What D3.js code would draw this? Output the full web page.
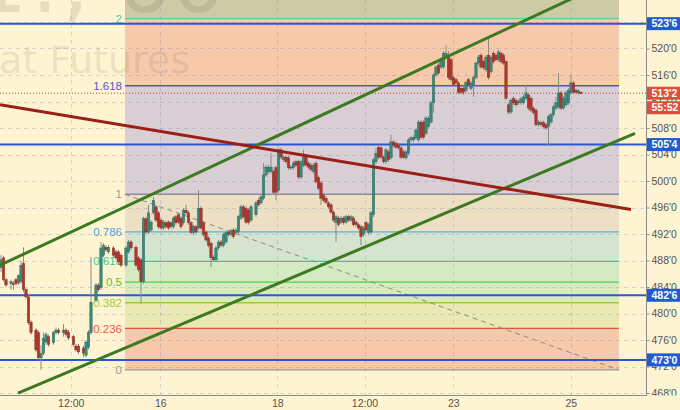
<!DOCTYPE html>
<html><head><meta charset="utf-8">
<script src="https://cdn.jsdelivr.net/npm/d3@7"></script>
<style>html,body{margin:0;padding:0;background:#fff4d2;} svg{display:block}</style>
</head><body><svg id="c" width="680" height="410"></svg>
<script>
// ---- data ----
// bar (hour index) of each candle
const bars = [
0,1,2,4,5,6,7,8,9,10,11,12,14,15,16,17,18,19,21,22,23,25,26,27,29,30,31,33,34,35,36,38,39,40,41,42,43,45,46,47,48,50,51,52,54,55,56,57,
58,59,60,61,62,63,64,65,66,67,68,69,70,71,72,73,74,75,76,77,78,79,80,81,82,83,84,85,86,87,88,89,90,91,92,93,94,95,96,97,98,99,100,
102,103,104,105,106,107,108,109,110,111,112,113,114,115,116,117,118,119,120,121,122,123,124,125,126,127,128,129,130,131,
132,133,134,135,136,137,138,139,140,141,142,143,144,145,146,147,148,149,150,151,152,153,154,155,156,157,158,159,160,161,
162,163,164,165,166,167,168,169,170,171,172,173,174,175,176,177,178,179,180,181,182,183,184,185,186,187,188,189,190,191,
192,193,194,195,196,197,198,199,200,201,202,203,204,205,206,207,208,209,210,211,212,213,214,215,216,217,218,219,220,221,
222,223,224,225,226,227,228,229,230,231,232
];
// [open, high, low, close]
const ohlc = [
[486.9,488.8,486.3,488.1],[488.4,488.7,484.8,485.1],[485.1,485.4,484.0,484.3],[484.5,485.1,483.6,484.8],[484.5,484.9,483.6,484.4],
[485.1,485.4,484.2,484.5],[484.6,485.9,484.3,485.7],[484.8,488.0,484.5,487.3],[487.6,490.0,483.2,483.6],[483.6,483.9,482.2,482.5],
[482.5,482.8,478.3,478.6],[478.7,479.0,476.8,477.1],[477.5,477.8,474.2,474.5],[477.1,477.4,473.0,473.3],[473.3,475.2,471.5,474.0],
[474.0,477.1,473.7,476.3],[475.7,477.2,475.3,476.8],[476.5,476.8,475.0,475.3],[475.6,477.4,475.3,477.1],[477.1,477.9,476.8,477.5],
[477.5,477.8,476.8,477.1],[477.1,478.4,476.5,477.5],[477.5,477.8,476.5,476.8],[477.2,477.5,476.0,476.3],[476.5,476.8,475.0,475.3],
[475.1,475.4,474.2,474.5],[475.1,475.4,473.9,474.2],[474.8,475.1,473.4,474.0],[473.7,476.0,473.4,475.7],[474.9,477.5,474.6,477.2],
[477.1,488.5,476.8,481.7],[482.0,484.6,481.7,484.3],[484.3,484.6,483.3,483.6],[483.9,490.8,483.6,489.9],[488.8,490.6,488.5,490.3],
[490.0,490.3,489.3,489.6],[489.3,490.3,489.0,490.0],[489.9,490.2,488.5,488.8],[489.3,489.6,488.1,488.4],[489.3,489.6,487.5,487.8],
[488.8,489.1,487.0,487.3],[487.3,490.2,487.0,489.9],[489.3,491.1,489.0,490.8],[490.8,491.1,489.6,489.9],[490.0,490.3,487.0,487.3],
[488.4,488.7,486.3,486.6],[488.1,488.4,481.6,484.8],[484.8,494.6,484.5,494.3],[494.3,494.6,492.0,492.3],[492.3,496.4,492.0,495.2],
[492.6,494.1,492.3,493.8],[495.2,497.6,494.9,497.1],[496.1,496.4,493.8,494.1],[495.2,495.5,492.8,493.1],[494.1,494.4,492.6,492.9],
[492.9,494.1,492.6,493.8],[493.7,494.0,492.8,493.1],[493.8,494.1,492.6,492.9],[493.7,494.0,492.8,493.1],[493.1,494.7,492.8,494.4],
[494.6,494.9,493.4,493.7],[494.9,495.2,493.5,493.8],[494.4,494.7,492.8,493.1],[493.7,495.9,493.4,495.6],[495.6,496.4,494.9,495.2],
[495.2,495.5,493.4,493.7],[493.7,494.0,491.9,492.2],[492.2,493.4,491.9,493.1],[493.1,493.4,492.0,492.3],[492.9,498.6,492.6,495.9],
[495.9,496.2,492.6,492.9],[493.7,494.0,491.6,491.9],[492.3,492.6,490.8,491.1],[491.4,491.7,490.0,490.3],[490.6,490.9,487.0,488.4],
[488.5,488.8,487.8,488.1],[488.1,490.2,487.8,489.9],[489.9,491.1,489.6,490.8],[490.8,491.1,490.0,490.3],[490.3,492.2,490.0,491.9],
[490.8,492.5,490.5,492.2],[492.3,492.6,491.6,491.9],[491.9,492.8,491.6,492.5],[492.6,492.9,491.3,491.6],[492.2,492.9,491.9,492.6],
[492.3,494.9,492.0,494.6],[494.4,496.4,494.1,496.1],[496.1,496.4,494.3,494.6],[495.9,496.2,493.5,493.8],[495.6,495.9,493.4,493.7],
[494.1,496.4,493.8,496.1],[494.9,497.0,494.6,496.7],[497.1,497.4,496.1,496.4],[496.7,497.9,496.4,497.6],[497.4,502.7,497.1,500.9],
[500.9,502.4,500.6,502.1],[501.4,502.4,501.1,502.1],[501.4,504.2,501.1,502.1],[501.4,501.7,498.0,498.3],[502.0,502.3,497.1,498.3],
[498.6,505.0,498.3,504.7],[504.7,505.0,503.3,503.6],[503.2,503.9,502.9,503.6],[503.6,503.9,502.6,502.9],[503.5,503.8,501.7,502.0],
[502.1,502.4,501.7,502.0],[502.0,503.0,501.7,502.7],[502.9,503.2,502.1,502.4],[502.9,503.2,500.3,500.6],[500.6,503.2,500.3,502.9],
[502.4,504.7,502.1,503.6],[503.6,503.9,502.1,502.4],[502.7,503.0,501.8,502.1],[502.4,502.7,501.4,501.7],[501.4,502.7,501.1,502.4],
[502.7,503.0,499.6,499.9],[500.5,500.8,498.6,498.9],[499.7,500.0,496.4,497.4],[497.9,498.2,496.8,497.1],[497.4,497.7,496.5,496.8],
[496.7,497.0,495.8,496.1],[496.4,496.7,495.0,495.3],[495.3,495.6,493.8,494.1],[493.7,494.9,490.8,494.6],[494.4,494.7,493.1,493.4],
[493.8,494.7,493.5,494.4],[494.4,494.7,493.4,493.7],[493.8,494.9,493.5,494.6],[494.6,494.9,493.8,494.1],[494.1,494.9,493.8,494.6],
[494.4,494.7,493.1,493.4],[493.8,494.1,493.1,493.4],[493.4,493.7,492.6,492.9],[493.1,493.4,490.3,491.6],[491.9,493.2,491.6,492.9],
[493.7,494.0,492.3,492.6],[492.2,493.7,491.9,493.4],[492.3,495.5,492.0,495.2],[494.9,503.5,494.6,503.2],[502.9,505.0,502.6,504.2],
[505.1,505.4,503.3,503.6],[505.0,505.3,503.3,503.6],[503.6,503.9,502.6,502.9],[502.9,505.0,502.6,504.7],[504.4,504.7,502.9,503.2],
[503.5,507.0,503.2,505.9],[505.9,506.2,505.1,505.4],[505.7,506.0,504.8,505.1],[505.4,505.7,504.7,505.0],[505.0,505.3,503.3,503.6],
[504.4,504.7,503.3,503.6],[503.5,504.7,503.2,504.4],[504.2,506.5,503.9,506.2],[506.2,506.8,505.9,506.5],[506.2,506.9,505.9,506.6],
[506.5,508.0,506.2,507.7],[506.2,509.2,505.9,508.9],[508.9,509.2,506.3,506.6],[508.9,509.2,506.3,506.6],[507.2,509.8,506.9,509.5],
[508.2,509.8,507.9,509.5],[508.9,512.1,508.6,511.8],[511.8,516.3,510.3,516.0],[516.0,517.5,515.7,517.2],[517.5,517.8,516.0,516.3],
[517.2,518.6,516.9,518.3],[517.2,519.6,516.9,519.3],[518.7,520.5,518.4,519.3],[519.0,519.6,515.3,515.6],[518.3,518.6,515.0,515.3],
[515.6,515.9,514.2,514.5],[515.3,515.6,514.5,514.8],[514.8,515.1,513.1,513.4],[514.0,514.3,513.1,513.4],[514.0,514.3,513.0,513.4],
[513.7,515.2,513.4,514.9],[515.3,515.6,514.2,514.5],[514.0,515.1,513.7,514.8],[514.5,515.9,512.7,515.6],[515.6,518.1,515.3,517.8],
[517.8,519.0,517.5,518.7],[519.0,519.3,516.9,517.2],[518.0,518.3,516.8,517.1],[516.8,519.0,516.5,518.7],[519.0,521.7,515.3,515.6],
[516.5,519.0,516.2,518.7],[519.3,519.6,517.7,518.0],[519.0,519.3,518.0,518.3],[518.3,519.8,518.0,519.5],[519.3,519.6,517.7,518.0],
[519.0,519.3,517.5,517.8],[518.0,518.3,512.2,512.5],[511.5,511.8,510.1,510.4],[510.4,512.5,510.1,512.2],[512.5,512.8,511.5,511.8],
[512.2,512.5,511.2,511.5],[511.8,512.3,511.5,512.0],[511.8,512.7,511.5,512.4],[511.8,513.0,511.5,512.7],[512.5,514.5,512.2,513.3],
[513.0,513.3,510.7,511.0],[512.5,512.8,510.4,510.7],[511.0,511.3,510.0,510.3],[510.7,511.0,508.2,508.5],[508.5,509.2,508.2,508.9],
[508.8,509.1,508.2,508.5],[508.8,509.1,507.9,508.2],[508.5,508.8,507.7,508.0],[508.2,510.0,505.4,509.7],[508.9,510.3,508.6,510.0],
[510.0,511.5,509.7,511.2],[511.0,512.7,510.7,511.8],[511.2,516.3,510.9,513.3],[513.3,513.6,510.7,511.0],[511.0,512.8,510.7,512.5],
[511.5,513.6,511.2,513.3],[511.8,514.0,511.5,513.7],[513.3,516.0,513.0,514.8],[514.8,515.1,513.1,513.4],[513.7,514.0,513.1,513.4],
[513.3,513.9,513.0,513.6],[513.4,513.6,513.1,513.25]
];
const priceTicks = [468,472,476,480,484,488,492,496,500,504,508,512,516,520,524];
const xTickLabels = ["12:00","16","18","12:00","23","25"];
const xTickBars = [27.9,63.7,110.5,145.4,180.9,227.9];
const fibLevels = [0,0.236,0.382,0.5,0.618,0.786,1,1.618,2,2.618];
const fibLabels = ["0","0.236","0.382","0.5","0.618","0.786","1","1.618","2",""];
const fibLow = 471.5, fibHigh = 498.0;
const fibBars = [49.6, 247.2];
const hLevels = [523.75, 505.5, 482.75, 473.0];
const lastPrice = 513.25;
const countdown = "55:52";
const channelUpper = [[-0.4,487.3],[260,533.1]];
const channelLower = [[6.8,468.0],[253.6,507.2]];
const redLine = [[-0.4,511.5],[252,495.7]];
const watermark1 = "ZW1!, 60";
const watermark2 = "Wheat Futures";

// ---- styles ----
const fibLineColors = ["#9a9a9a","#e0533f","#9ccc3c","#4fd04f","#3cc890","#5aaee0","#8c8ca0","#5550c8","#5ad0a0","#5ad0a0"];
const fibTextColors = ["#9a9a9a","#f0584a","#a2cc30","#40d040","#38cc92","#4aa3e0","#9a9a9a","#5a55d0","#40d0a0",""];
const fibFills = ["#f5c9a9","#ebe9b3","#d9ebbc","#d3eac3","#d6e3cf","#ecdfc3","#d9ced3","#f5c9a9","#cdcaa6"];

const W = 680, H = 410, PW = 646.5, PH = 395.5;
const svg = d3.select("#c");
const x = d3.scaleLinear().domain([0, 232]).range([1, 581]);
const y = d3.scaleLinear().domain([467.55, 527.32]).range([396, 0]);
const fmt = p => { const i = Math.floor(p + 1e-9); return i + "'" + Math.round((p - i) * 8); };

svg.append("rect").attr("width", W).attr("height", H).attr("fill", "#fff4d2");
const defs = svg.append("defs");
defs.append("clipPath").attr("id", "clip").append("rect").attr("width", PW).attr("height", PH);
defs.append("clipPath").attr("id", "clipY").append("rect").attr("x", -2).attr("width", 60).attr("height", PH);
const plot = svg.append("g").attr("clip-path", "url(#clip)");

// fib fills
const fibPrice = l => fibLow + l * (fibHigh - fibLow);
const fx0 = x(fibBars[0]), fx1 = x(fibBars[1]);
for (let i = 0; i < fibLevels.length - 1; i++) {
  const yA = y(fibPrice(fibLevels[i])), yB = y(fibPrice(fibLevels[i + 1]));
  plot.append("rect").attr("x", fx0).attr("width", fx1 - fx0)
    .attr("y", Math.min(yA, yB)).attr("height", Math.abs(yA - yB)).attr("fill", fibFills[i]);
}

// grid
const grid = plot.append("g").attr("stroke", "rgba(110,130,190,0.28)").attr("stroke-dasharray", "4,4");
priceTicks.forEach(p => grid.append("line").attr("x1", 0).attr("x2", PW).attr("y1", Math.round(y(p)) + 0.5).attr("y2", Math.round(y(p)) + 0.5));
xTickBars.forEach(b => grid.append("line").attr("y1", 0).attr("y2", PH).attr("x1", Math.round(x(b)) + 0.5).attr("x2", Math.round(x(b)) + 0.5));

// watermark
plot.append("text").attr("x", 226).attr("y", 12).attr("text-anchor", "end")
  .attr("font-family", "DejaVu Sans").attr("font-size", 86).attr("fill", "rgba(110,100,80,0.16)").text(watermark1);
plot.append("text").attr("x", 190).attr("y", 73).attr("text-anchor", "end")
  .attr("font-family", "DejaVu Sans").attr("font-size", 38).attr("fill", "rgba(110,100,80,0.15)").text(watermark2);

// fib lines and labels
fibLevels.forEach((l, i) => {
  if (!fibLabels[i]) return;
  const yy = y(fibPrice(l));
  plot.append("line").attr("x1", fx0).attr("x2", fx1).attr("y1", yy).attr("y2", yy)
    .attr("stroke", fibLineColors[i]).attr("stroke-width", 1.3);
  plot.append("text").attr("x", fx0 - 3).attr("y", yy).attr("dy", "0.36em").attr("text-anchor", "end")
    .attr("font-family", "Liberation Sans, Arial").attr("font-size", 11.5).attr("fill", fibTextColors[i]).text(fibLabels[i]);
});
// fib diagonal
plot.append("line").attr("x1", fx0).attr("y1", y(fibHigh)).attr("x2", fx1).attr("y2", y(fibLow))
  .attr("stroke", "#8a8a8a").attr("stroke-dasharray", "5,4").attr("stroke-width", 1);

// horizontal blue levels
hLevels.forEach(p => plot.append("line").attr("x1", 0).attr("x2", PW).attr("y1", y(p)).attr("y2", y(p))
  .attr("stroke", "#2a58d4").attr("stroke-width", 2));
// last price dotted
plot.append("line").attr("x1", 0).attr("x2", PW).attr("y1", y(lastPrice)).attr("y2", y(lastPrice))
  .attr("stroke", "#c84040").attr("stroke-dasharray", "1,2").attr("stroke-width", 1);

// candles
const cg = plot.append("g");
ohlc.forEach((d, i) => {
  const [o, h, l, c] = d;
  const up = c >= o;
  const cx = x(bars[i]);
  cg.append("line").attr("x1", cx).attr("x2", cx).attr("y1", y(h)).attr("y2", y(l))
    .attr("stroke", "#8a8a8a").attr("stroke-width", 1);
  const yt = y(Math.max(o, c)), yb = y(Math.min(o, c));
  cg.append("rect").attr("x", cx - 1.2).attr("width", 2.4).attr("y", yt).attr("height", Math.max(1, yb - yt))
    .attr("fill", up ? "#3a8878" : "#b0362c").attr("stroke", up ? "#22645a" : "#7e2620").attr("stroke-width", 0.4);
});

// trend lines
const tl = d3.line().x(d => x(d[0])).y(d => y(d[1]));
plot.append("path").attr("d", tl(channelUpper)).attr("fill", "none").attr("stroke", "#3c7a22").attr("stroke-width", 3);
plot.append("path").attr("d", tl(channelLower)).attr("fill", "none").attr("stroke", "#3c7a22").attr("stroke-width", 3);
plot.append("path").attr("d", tl(redLine)).attr("fill", "none").attr("stroke", "#9b1f14").attr("stroke-width", 3);

// axes
svg.append("line").attr("x1", PW).attr("x2", PW).attr("y1", 0).attr("y2", PH).attr("stroke", "#8c8c8c");
svg.append("line").attr("x1", 0).attr("x2", PW).attr("y1", PH).attr("y2", PH).attr("stroke", "#8c8c8c");
const axisY = d3.axisRight(y).tickValues(priceTicks).tickFormat(fmt).tickSize(3);
const ay = svg.append("g").attr("transform", `translate(${PW},0)`).attr("clip-path", "url(#clipY)").call(axisY);
ay.select(".domain").remove();
ay.selectAll("line").attr("stroke", "#8c8c8c");
ay.selectAll("text").attr("font-family", "Liberation Sans, Arial").attr("font-size", 10.5).attr("fill", "#555").attr("x", 5);

const axisX = d3.axisBottom(x).tickValues(xTickBars).tickFormat((d, i) => xTickLabels[i]).tickSize(0);
const ax = svg.append("g").attr("transform", `translate(0,${PH})`).call(axisX);
ax.select(".domain").remove();
ax.selectAll("text").attr("font-family", "Liberation Sans, Arial").attr("font-size", 10.5).attr("fill", "#555").attr("dy", "0.85em");

// price label boxes
function box(p, label, color, yy) {
  const g = svg.append("g");
  g.append("rect").attr("x", PW + 0.5).attr("y", yy - 6.5).attr("width", W - PW).attr("height", 13).attr("fill", color);
  g.append("text").attr("x", PW + 5).attr("y", yy).attr("dy", "0.36em").attr("font-family", "Liberation Sans, Arial")
    .attr("font-size", 10.5).attr("font-weight", "bold").attr("fill", "#fff").text(label);
}
hLevels.forEach(p => box(p, fmt(p), "#1f5bd2", y(p)));
box(lastPrice, fmt(lastPrice), "#dc4f3b", y(lastPrice));
box(lastPrice, countdown, "#dc4f3b", y(lastPrice) + 14.5);
</script></body></html>
